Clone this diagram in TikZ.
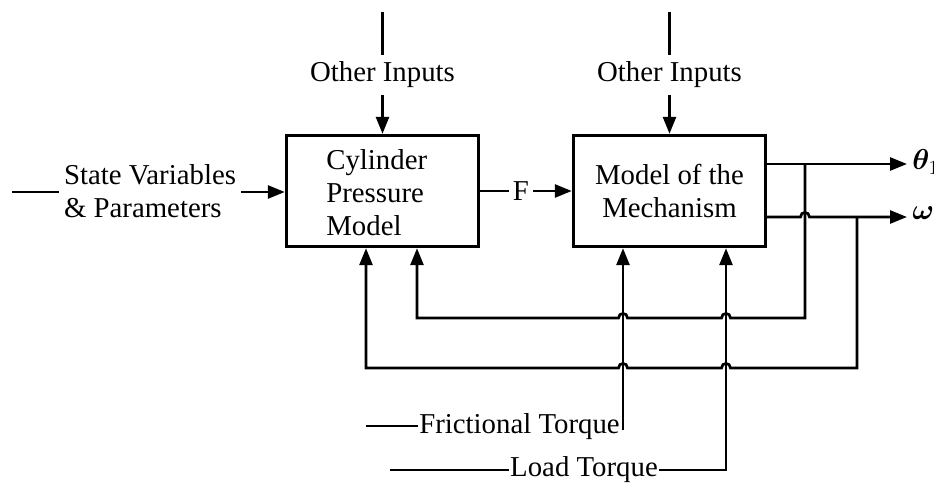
\documentclass[tikz,border=0pt]{standalone}
\usepackage{fontspec}
\setmainfont{Liberation Serif}
\usepackage{bm}
\usetikzlibrary{arrows.meta}
\begin{document}
\begin{tikzpicture}[x=0.5pt,y=-0.5pt,
  line width=1.35pt,
  every node/.style={font=\fontsize{14.4}{16.5}\selectfont},
  blk/.style={draw,line width=1.7pt,minimum width=96pt,minimum height=55.5pt,inner sep=0pt},
  lbl/.style={inner sep=1.5pt},
  arr/.style={-{Triangle[length=8.5pt,width=6.5pt]}},
]
\useasboundingbox (0,0) rectangle (934,487);

% blocks
\node[blk] (cpm) at (382.5,191) {};
\node[inner sep=0pt,align=left,anchor=west] (cpmt) at (325,193) {Cylinder\\Pressure\\Model};
\node[blk,align=center] (mm) at (669.5,191) {Model of the\\Mechanism};

% other inputs
\node[lbl,inner sep=3pt] (oi1) at (382.5,75) {Other Inputs};
\node[lbl,inner sep=3pt] (oi2) at (669.5,75) {Other Inputs};
\coordinate (oi1top) at (382.5,12);
\coordinate (oi2top) at (669.5,12);
\draw (oi1top) -- (oi1.north);
\draw[arr] (oi1.south) -- (cpm.north);
\draw (oi2top) -- (oi2.north);
\draw[arr] (oi2.south) -- (mm.north);

% state variables
\node[lbl,align=left,inner sep=2pt] (sv) at (150,191) {State Variables\\\& Parameters};
\coordinate (svin) at (12,192);
\draw (svin) -- (svin -| sv.west);
\draw[arr] (sv.east |- svin) -- (cpm.west |- svin);

% F
\node[lbl] (F) at (521,191) {F};
\draw (cpm.east |- F) -- (F.west);
\draw[arr] (F.east) -- (mm.west |- F);

% outputs
\coordinate (th) at (907,164);
\coordinate (om) at (907,217);
\node[anchor=west,inner sep=0pt] (thl) at (911,162) {$\bm{\theta}_1$};
\node[anchor=west,inner sep=0pt] (oml) at (911,215) {$\bm{\omega}_1$};
\draw[arr] (mm.east |- th) -- (th);
\draw[arr] (mm.east |- om) -- (800.5,217) .. controls (800.5,211) and (809.5,211) .. (809.5,217) -- (om);

% feedback 1 (theta)
\coordinate (j1) at (805,164);
\coordinate (fb1) at (417,318);
\draw[arr] (j1) -- (805,318) -- (730.5,318)
  .. controls (730.5,312) and (721.5,312) .. (721.5,318) -- (627.5,318)
  .. controls (627.5,312) and (618.5,312) .. (618.5,318) -- (fb1) -- (fb1 |- cpm.south);

% feedback 2 (omega)
\coordinate (j2) at (857,217);
\coordinate (fb2) at (366,368);
\draw[arr] (j2) -- (857,368) -- (730.5,368)
  .. controls (730.5,362) and (721.5,362) .. (721.5,368) -- (627.5,368)
  .. controls (627.5,362) and (618.5,362) .. (618.5,368) -- (fb2) -- (fb2 |- cpm.south);

% frictional torque
\node[inner sep=0pt] (ft) at (519.5,427) {Frictional Torque};
\coordinate (ftin) at (366,426);
\coordinate (ftc) at (623,430);
\draw (ftin) -- (ftin -| ft.west);
\draw[arr] (ftc) -- (ftc |- mm.south);

% load torque
\node[inner sep=0pt] (lt) at (584,470) {Load Torque};
\coordinate (ltin) at (390,470);
\coordinate (ltc) at (726,470);
\draw (ltin) -- (ltin -| lt.west);
\draw[arr] (lt.east |- ltc) -- (ltc) -- (ltc |- mm.south);
\end{tikzpicture}
\end{document}
